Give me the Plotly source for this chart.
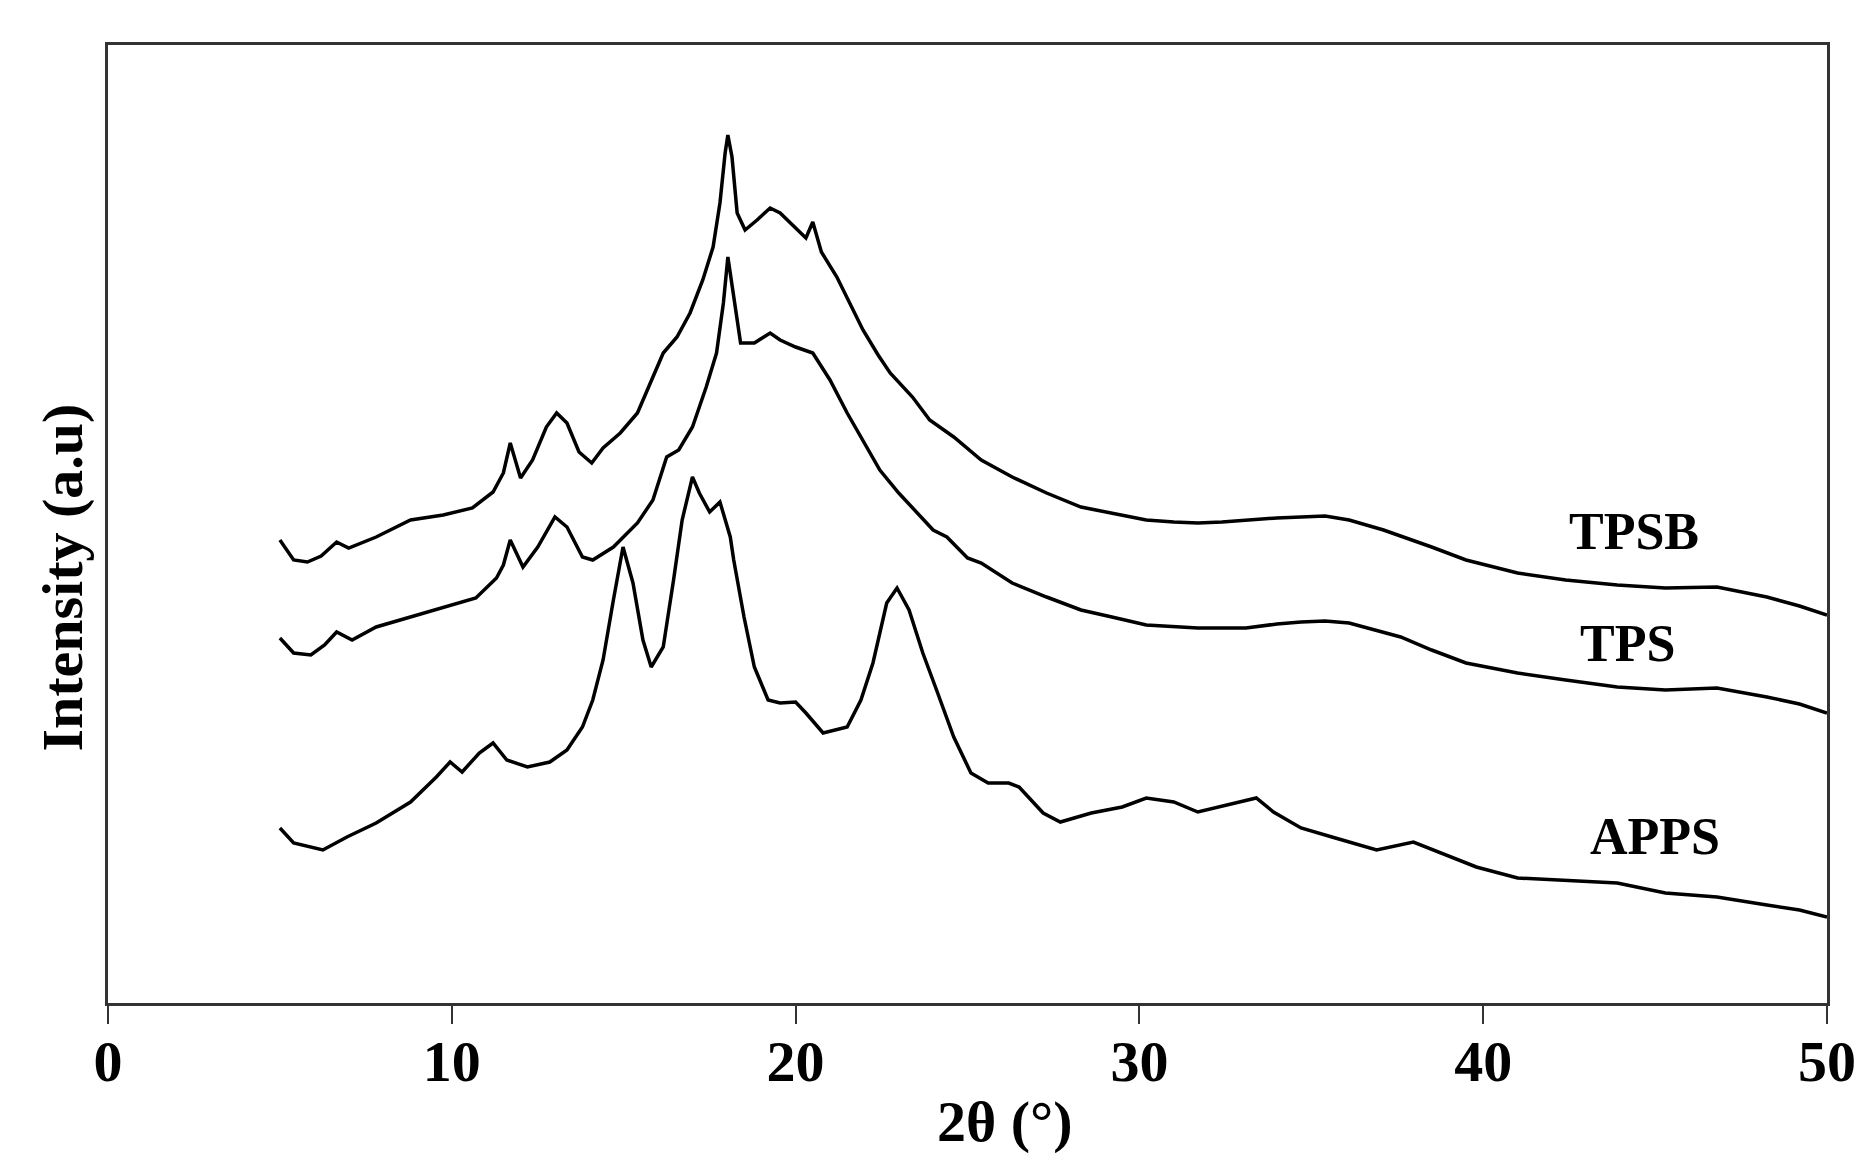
import plotly.graph_objects as go

# ---- data (2θ in degrees, intensity in arbitrary units) ----
tpsb_x = [5.0, 5.4, 5.8, 6.2, 6.65, 7.0, 7.8, 8.8, 9.75, 10.6, 11.2, 11.5, 11.7, 12.0, 12.35,
          12.75, 13.05, 13.35, 13.7, 14.07, 14.4, 14.9, 15.4, 15.77, 16.15, 16.55, 16.93, 17.3,
          17.6, 17.8, 17.95, 18.03, 18.15, 18.3, 18.53, 18.88, 19.26, 19.55, 19.75, 20.3, 20.5,
          20.75, 21.2, 21.6, 21.96, 22.4, 22.75, 23.4, 23.9, 24.6, 25.4, 26.3, 27.3, 28.3, 29.2,
          30.2, 31.0, 31.7, 32.4, 33.1, 34.0, 34.7, 35.4, 36.1, 37.1, 38.5, 39.5, 41.0, 42.4,
          43.9, 45.3, 46.8, 48.25, 49.2, 50.0]
tpsb_y = [463, 443, 441, 447, 461, 455, 466, 483, 488, 495, 511, 530, 560, 525, 543,
          576, 590, 580, 551, 540, 555, 570, 590, 620, 650, 666, 690, 723,
          756, 800, 850, 868, 846, 790, 773, 783, 795, 790, 783, 765, 781,
          751, 726, 698, 673, 648, 630, 606, 583, 566, 543, 526, 510, 496, 490,
          483, 481, 480, 481, 483, 485, 486, 487, 483, 473, 456, 443, 430, 423,
          418, 415, 416, 406, 397, 388]

tps_x = [5.0, 5.4, 5.9, 6.3, 6.65, 7.1, 7.8, 8.8, 9.75, 10.7, 11.3, 11.5, 11.7, 12.07, 12.5,
         13.0, 13.35, 13.8, 14.1, 14.7, 15.4, 15.85, 16.25, 16.6, 17.0, 17.4, 17.7, 17.9,
         18.03, 18.2, 18.4, 18.8, 19.26, 19.55, 20.0, 20.5, 21.0, 21.5, 22.1, 22.45, 23.0,
         23.4, 24.0, 24.4, 25.0, 25.4, 26.3, 27.3, 28.3, 29.2, 30.2, 31.7, 33.1, 34.0, 34.7,
         35.4, 36.1, 37.6, 38.5, 39.5, 41.0, 42.4, 43.9, 45.3, 46.8, 48.25, 49.2, 50.0]
tps_y = [365, 350, 348, 358, 371, 363, 376, 386, 396, 405, 425, 438, 463, 436, 456,
         486, 476, 446, 443, 456, 480, 503, 546, 553, 576, 616, 650, 700,
         746, 706, 660, 660, 670, 663, 656, 650, 623, 590, 553, 533, 510,
         495, 473, 466, 445, 440, 420, 406, 393, 386, 378, 375, 375, 379, 381,
         382, 380, 366, 353, 340, 330, 323, 316, 313, 315, 306, 299, 290]

apps_x = [5.0, 5.4, 6.25, 6.95, 7.8, 8.8, 9.55, 9.95, 10.3, 10.8, 11.2, 11.6, 12.2, 12.85,
          13.35, 13.8, 14.1, 14.4, 14.7, 14.98, 15.27, 15.56, 15.8, 16.15, 16.45, 16.7, 17.0,
          17.2, 17.5, 17.8, 18.1, 18.2, 18.5, 18.8, 19.2, 19.55, 20.0, 20.3, 20.8, 21.5, 21.9,
          22.25, 22.65, 22.95, 23.3, 23.7, 24.1, 24.6, 25.1, 25.6, 26.2, 26.5, 27.2, 27.7,
          28.6, 29.5, 30.2, 31.0, 31.7, 32.6, 33.4, 33.9, 34.7, 35.6, 36.9, 37.97, 38.8, 39.8,
          41.0, 42.4, 43.9, 45.3, 46.8, 48.25, 49.2, 50.0]
apps_y = [175, 160, 153, 166, 180, 201, 226, 241, 231, 250, 260, 243, 236, 241,
          253, 276, 303, 343, 403, 456, 420, 363, 336, 356, 423, 483, 526,
          510, 491, 501, 466, 443, 386, 336, 303, 300, 301, 290, 270, 276, 303,
          340, 400, 415, 393, 350, 313, 266, 230, 220, 220, 216, 190, 181,
          190, 196, 205, 201, 191, 198, 205, 191, 175, 166, 153, 161, 150, 136,
          125, 123, 120, 110, 106, 98, 93, 86]

series_names = ["TPSB", "TPS", "APPS"]
label_x = [44.4, 44.2, 45.0]
label_y = [472, 360, 167]
x_ticks = [0, 10, 20, 30, 40, 50]

SERIF = "Liberation Serif, Times New Roman, serif"

fig = go.Figure()
for name, xs, ys in zip(series_names, [tpsb_x, tps_x, apps_x], [tpsb_y, tps_y, apps_y]):
    fig.add_trace(go.Scatter(x=xs, y=ys, mode="lines", name=name,
                             line=dict(color="black", width=3.5), showlegend=False))

for name, lx, ly in zip(series_names, label_x, label_y):
    fig.add_annotation(x=lx, y=ly, xref="x", yref="y", text=name, showarrow=False,
                       xanchor="center", yanchor="middle",
                       font=dict(family=SERIF, size=52, color="black", weight="bold"))

fig.add_annotation(x=0.522, y=-0.124, xref="paper", yref="paper", text="2θ (°)",
                   showarrow=False, xanchor="center", yanchor="middle",
                   font=dict(family=SERIF, size=58, color="black", weight="bold"))
fig.add_annotation(x=-0.027, y=0.4436, xref="paper", yref="paper", text="Intensity (a.u)",
                   textangle=-90, showarrow=False, xanchor="center", yanchor="middle",
                   font=dict(family=SERIF, size=58, color="black", weight="bold"))

fig.update_layout(
    width=1867, height=1158,
    margin=dict(l=100, r=48, t=37, b=163),
    paper_bgcolor="white", plot_bgcolor="white",
    xaxis=dict(range=[0, 50], tickvals=x_ticks, ticks="outside", ticklen=18, tickwidth=2,
               tickcolor="#333", showline=True, linecolor="#333", linewidth=2.5, mirror=True,
               showgrid=False, zeroline=False, ticklabelstandoff=-12,
               tickfont=dict(family=SERIF, size=58, color="black", weight="bold")),
    yaxis=dict(range=[0, 958], showticklabels=False, ticks="", showline=True,
               linecolor="#333", linewidth=2.5, mirror=True, showgrid=False, zeroline=False),
)

fig.write_html("out.html")
